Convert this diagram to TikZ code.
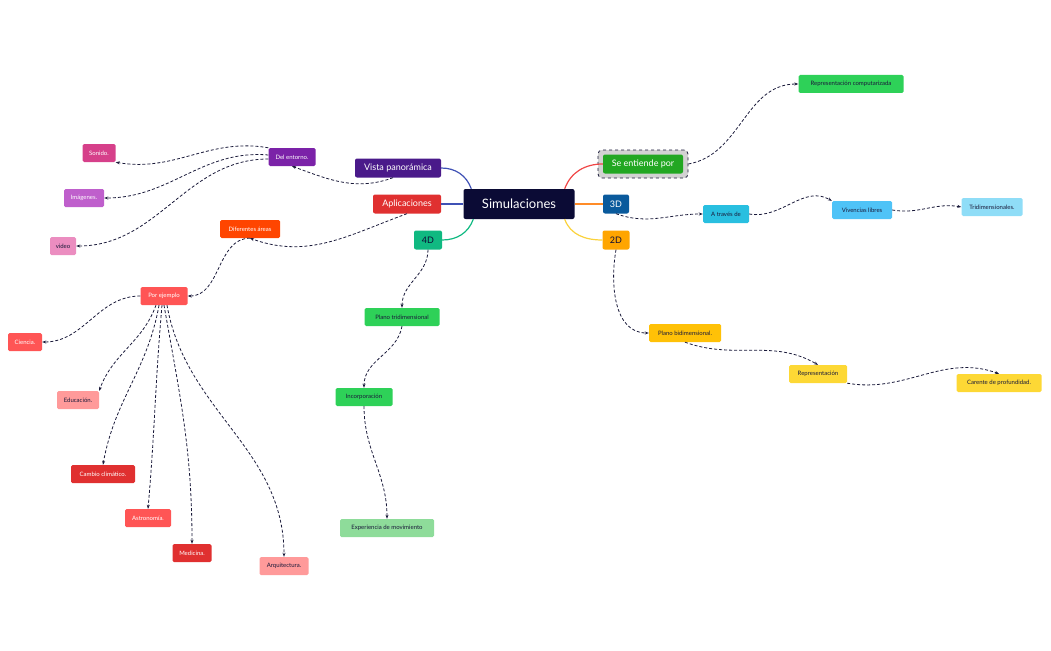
\documentclass[tikz,border=0pt]{standalone}
\usepackage{fontspec}
\setmainfont{Lato}
\usetikzlibrary{arrows.meta}
\definecolor{navy}{HTML}{0B0B35}
\definecolor{ink}{HTML}{1A1A3A}
\definecolor{lblue}{HTML}{3F51B5}
\definecolor{lteal}{HTML}{10B981}
\definecolor{lred}{HTML}{F04646}
\definecolor{lorange}{HTML}{FF8C28}
\definecolor{lyellow}{HTML}{FAD23C}
\tikzset{
 box/.style={rounded corners=1.5pt,inner sep=0pt,minimum height=18pt,font=\fontsize{6}{7}\selectfont,text=#1},
 box/.default=ink,
 big/.style={rounded corners=2pt,inner sep=0pt,minimum height=19pt,font=\fontsize{9}{10}\selectfont,text=white},
 dl/.style={draw=ink,line width=0.8pt,dash pattern=on 3pt off 2pt,-{Stealth[length=4pt,width=3pt]}},
 sl/.style={line width=1.2pt}
}
\begin{document}
\begin{tikzpicture}[x=1pt,y=1pt]
\useasboundingbox (0,0) rectangle (1051,-650);
% central
\node[big,fill=navy,minimum width=111pt,minimum height=30pt,font=\fontsize{13}{15}\selectfont] (sim) at (519,-204) {Simulaciones};
\node[big,fill={rgb,255:red,74;green,26;blue,138},minimum width=86pt] (vista) at (398,-168) {Vista panorámica};
\node[big,fill={rgb,255:red,224;green,48;blue,48},minimum width=68pt] (apl) at (407,-204) {Aplicaciones};
\node[big,fill={rgb,255:red,16;green,185;blue,129},minimum width=28pt,text=navy] (d4) at (428,-240) {4D};
\node[rounded corners=4pt,draw=ink,dashed,fill=gray!35,line width=0.8pt,minimum width=90pt,minimum height=28pt] (frame) at (643,-164) {};
\node[big,fill={rgb,255:red,34;green,167;blue,34},minimum width=80pt] (se) at (643,-164) {Se entiende por};
\node[big,fill={rgb,255:red,10;green,90;blue,156},minimum width=26pt] (d3) at (616,-204) {3D};
\node[big,fill={rgb,255:red,255;green,165;blue,0},minimum width=27pt,text=navy] (d2) at (616,-240) {2D};
% solid branches
\draw[sl,lblue] ([xshift=8pt]sim.north west) to[out=110,in=0] (vista.east);
\draw[sl,lblue] (sim.west) -- (apl.east);
\draw[sl,lteal] ([xshift=10pt]sim.south west) to[out=-110,in=0] (d4.east);
\draw[sl,lred] ([xshift=-10pt]sim.north east) to[out=70,in=180] (se.west);
\draw[sl,lorange] (sim.east) -- (d3.west);
\draw[sl,lyellow] ([xshift=-10pt]sim.south east) to[out=-70,in=180] (d2.west);
% right side
\node[box,fill={rgb,255:red,46;green,209;blue,88},minimum width=105pt] (rc) at (851,-84) {Representación computarizada};
\node[box,fill={rgb,255:red,41;green,191;blue,224},minimum width=46pt] (at) at (726,-214) {A través de};
\node[box,fill={rgb,255:red,79;green,195;blue,247},minimum width=60pt] (viv) at (862,-210) {Vivencias libres};
\node[box,fill={rgb,255:red,143;green,221;blue,247},minimum width=61pt] (tri) at (992,-207) {Tridimensionales.};
\node[box,fill={rgb,255:red,255;green,193;blue,7},minimum width=72pt] (pb) at (685,-333) {Plano bidimensional.};
\node[box,fill={rgb,255:red,253;green,216;blue,53},minimum width=58pt] (rep) at (818,-374) {Representación};
\node[box,fill={rgb,255:red,253;green,216;blue,53},minimum width=85pt] (car) at (999,-383) {Carente de profundidad.};
% 4D column
\node[box,fill={rgb,255:red,46;green,209;blue,88},minimum width=75pt] (pt) at (402,-317) {Plano tridimensional};
\node[box,fill={rgb,255:red,46;green,209;blue,88},minimum width=57pt] (inc) at (364,-397) {Incorporación};
\node[box,fill={rgb,255:red,142;green,220;blue,154},minimum width=94pt] (exp) at (387,-528) {Experiencia de movimiento};
% left
\node[box=white,fill={rgb,255:red,123;green,34;blue,168},minimum width=47pt] (del) at (292,-157) {Del entorno.};
\node[box=white,fill={rgb,255:red,214;green,64;blue,138},minimum width=33pt] (son) at (99,-153) {Sonido.};
\node[box=white,fill={rgb,255:red,191;green,95;blue,204},minimum width=40pt] (ima) at (84,-198) {Imágenes.};
\node[box,fill={rgb,255:red,235;green,141;blue,192},minimum width=26pt] (vid) at (63,-246) {video};
\node[box=white,fill={rgb,255:red,255;green,69;blue,0},minimum width=60pt] (dif) at (250,-229) {Diferentes áreas};
\node[box=white,fill={rgb,255:red,255;green,85;blue,85},minimum width=47pt] (por) at (164,-296) {Por ejemplo};
\node[box=white,fill={rgb,255:red,255;green,85;blue,85},minimum width=34pt] (cie) at (25,-342) {Ciencia.};
\node[box,fill={rgb,255:red,255;green,154;blue,154},minimum width=42pt] (edu) at (78,-400) {Educación.};
\node[box=white,fill={rgb,255:red,224;green,48;blue,48},minimum width=64pt] (cam) at (103,-474) {Cambio climático.};
\node[box=white,fill={rgb,255:red,255;green,85;blue,85},minimum width=46pt] (ast) at (148,-518) {Astronomía.};
\node[box=white,fill={rgb,255:red,224;green,48;blue,48},minimum width=39pt] (med) at (192,-553) {Medicina.};
\node[box,fill={rgb,255:red,255;green,154;blue,154},minimum width=49pt] (arq) at (284,-566) {Arquitectura.};
% dashed connectors
\draw[dl] ([xshift=-5pt]vista.south) to[out=-160,in=-20] (del.south);
\draw[dl] (del.north west) to[out=170,in=-10] (son.south east);
\draw[dl] ([yshift=2pt]del.west) to[out=175,in=0] (ima.east);
\draw[dl] ([yshift=-2pt]del.west) to[out=180,in=0] (vid.east);
\draw[dl] (apl.south) to[out=-160,in=-20] (dif.south);
\draw[dl] (dif.south) to[out=180,in=0] (por.east);
\draw[dl] (por.west) to[out=180,in=0] (cie.east);
\draw[dl] ([xshift=-8pt]por.south) to[out=-110,in=70] (edu.north east);
\draw[dl] ([xshift=-5pt]por.south) to[out=-100,in=80] (cam.north);
\draw[dl] ([xshift=-2pt]por.south) to[out=-95,in=85] (ast.north);
\draw[dl] (por.south) to[out=-80,in=90] (med.north);
\draw[dl] ([xshift=3pt]por.south) to[out=-80,in=90] (arq.north);
\draw[dl] (d4.south) to[out=-90,in=90] (pt.north);
\draw[dl] (pt.south) to[out=-100,in=90] (inc.north);
\draw[dl] (inc.south) to[out=-90,in=90] (exp.north);
\draw[dl] (frame.east) to[out=10,in=180] (rc.west);
\draw[dl] (d3.south) to[out=-20,in=180] (at.west);
\draw[dl] (at.east) to[out=-10,in=150] (viv.north west);
\draw[dl] (viv.east) to[out=-10,in=170] (tri.west);
\draw[dl] (d2.south) to[out=-100,in=180] (pb.west);
\draw[dl] (pb.south) to[out=-20,in=150] (rep.north);
\draw[dl] (rep.south east) to[out=-10,in=160] (car.north);
\end{tikzpicture}
\end{document}
